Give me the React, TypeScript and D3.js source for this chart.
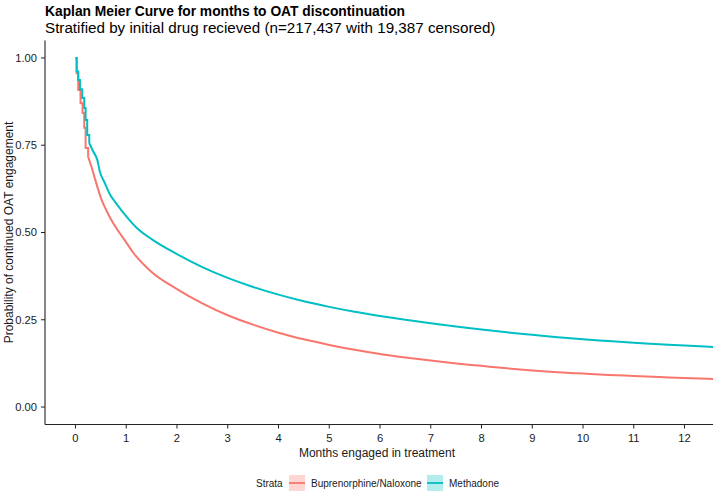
import React, { useMemo } from "react";
import * as d3 from "d3";

const WIDTH = 713;
const HEIGHT = 493;
const PANEL = { left: 45, right: 715, top: 40.5, bottom: 424.5 };

const TITLE = "Kaplan Meier Curve for months to OAT discontinuation";
const SUBTITLE = "Stratified by initial drug recieved (n=217,437 with 19,387 censored)";

// months on treatment / survival probability
const methadoneTime = [0, 0.024, 0.055, 0.089, 0.134, 0.173, 0.2, 0.232, 0.272, 0.35, 0.43, 0.48, 0.58, 0.68, 0.81, 1.01, 1.21, 1.5, 2, 2.5, 3, 3.5, 4, 4.5, 5, 5.5, 6, 6.5, 7, 7.5, 8, 8.5, 9, 9.5, 10, 10.5, 11, 11.5, 12, 12.6];
const methadoneSurv = [1, 0.961, 0.937, 0.91, 0.885, 0.857, 0.822, 0.779, 0.756, 0.732, 0.708, 0.675, 0.641, 0.609, 0.582, 0.545, 0.513, 0.481, 0.438, 0.401, 0.37, 0.344, 0.322, 0.303, 0.287, 0.273, 0.261, 0.25, 0.24, 0.231, 0.222, 0.214, 0.207, 0.2, 0.194, 0.189, 0.184, 0.18, 0.176, 0.172];

const bupTime = [0, 0.024, 0.055, 0.1, 0.14, 0.173, 0.2, 0.25, 0.32, 0.38, 0.45, 0.514, 0.61, 0.71, 0.84, 0.97, 1.14, 1.5, 2, 2.5, 3, 3.5, 4, 4.5, 5, 5.5, 6, 6.5, 7, 7.5, 8, 8.5, 9, 9.5, 10, 10.5, 11, 11.5, 12, 12.6];
const bupSurv = [1, 0.956, 0.908, 0.87, 0.842, 0.8, 0.742, 0.717, 0.686, 0.656, 0.622, 0.594, 0.563, 0.535, 0.505, 0.478, 0.442, 0.387, 0.338, 0.297, 0.263, 0.236, 0.213, 0.194, 0.178, 0.164, 0.152, 0.142, 0.133, 0.125, 0.118, 0.111, 0.105, 0.1, 0.096, 0.092, 0.089, 0.086, 0.083, 0.08];

const strataNames = ["Buprenorphine/Naloxone", "Methadone"];
const strataColors = ["#F8766D", "#00BFC4"];
// where the visible day-by-day steps end and the curve gets dense
const stepEnds = [0.25, 0.272];

const xTicks = [0, 1, 2, 3, 4, 5, 6, 7, 8, 9, 10, 11, 12];
const yTicks = [0, 0.25, 0.5, 0.75, 1];

const FONT = "'Liberation Sans', Arial, sans-serif";
const TEXT = "#1a1a1a";

const App = () => {
  const xScale = d3.scaleLinear().domain([-0.6, 12.6]).range([PANEL.left, PANEL.right]);
  const yScale = d3.scaleLinear().domain([-0.05, 1.05]).range([PANEL.bottom, PANEL.top]);

  const series = useMemo(() => {
    const all = [
      { time: bupTime, surv: bupSurv },
      { time: methadoneTime, surv: methadoneSurv },
    ];
    return all.map((s, i) => {
      const pts: [number, number][] = s.time.map((t, j) => [t, s.surv[j]]);
      const early = pts.filter(p => p[0] <= stepEnds[i]);
      const late = pts.filter(p => p[0] >= stepEnds[i]);
      const stepLine = d3.line<[number, number]>()
        .x(d => xScale(d[0]))
        .y(d => yScale(d[1]))
        .curve(d3.curveStepAfter);
      const smoothLine = d3.line<[number, number]>()
        .x(d => xScale(d[0]))
        .y(d => yScale(d[1]))
        .curve(d3.curveMonotoneX);
      return { early: stepLine(early) ?? "", late: smoothLine(late) ?? "", color: strataColors[i] };
    });
  }, []);

  const fmt = d3.format(".2f");
  const legendY = 483;

  return (
    <div style={{ position: "absolute", left: 0, top: 0 }}>
      <svg width={WIDTH} height={HEIGHT} style={{ display: "block", background: "white" }} fontFamily={FONT}>
        <defs>
          <clipPath id="panel">
            <rect x={PANEL.left} y={PANEL.top} width={PANEL.right - PANEL.left} height={PANEL.bottom - PANEL.top} />
          </clipPath>
        </defs>

        <text x={45} y={16} fontSize={13.8} fontWeight="bold" fill="#000">{TITLE}</text>
        <text x={45} y={33} fontSize={15.2} fill="#000">{SUBTITLE}</text>

        {/* curves */}
        <g clipPath="url(#panel)" fill="none" strokeWidth={2}>
          {series.map((s, i) => (
            <g key={i} stroke={s.color}>
              <path d={s.early} />
              <path d={s.late} />
            </g>
          ))}
        </g>

        {/* axes */}
        <line x1={PANEL.left} x2={PANEL.left} y1={PANEL.top} y2={PANEL.bottom} stroke="#222" strokeWidth={1.1} />
        <line x1={PANEL.left} x2={PANEL.right} y1={PANEL.bottom} y2={PANEL.bottom} stroke="#222" strokeWidth={1.1} />

        {yTicks.map(t => (
          <g key={t} transform={`translate(0,${yScale(t)})`}>
            <line x1={PANEL.left - 4} x2={PANEL.left} stroke="#222" />
            <text x={PANEL.left - 8} dy="0.35em" textAnchor="end" fontSize={11.2} fill={TEXT}>{fmt(t)}</text>
          </g>
        ))}
        {xTicks.map(t => (
          <g key={t} transform={`translate(${xScale(t)},0)`}>
            <line y1={PANEL.bottom} y2={PANEL.bottom + 4} stroke="#222" />
            <text y={442} textAnchor="middle" fontSize={11.2} fill={TEXT}>{t}</text>
          </g>
        ))}

        <text x={(PANEL.left + PANEL.right - 6) / 2} y={457} textAnchor="middle" fontSize={12} fill={TEXT}>
          Months engaged in treatment
        </text>
        <text
          transform={`translate(13,${(PANEL.top + PANEL.bottom) / 2}) rotate(-90)`}
          textAnchor="middle"
          fontSize={12}
          fill={TEXT}
        >
          Probability of continued OAT engagement
        </text>

        {/* legend */}
        <text x={256} y={legendY + 3.5} fontSize={10} fill={TEXT}>Strata</text>
        {strataNames.map((name, i) => {
          const kx = i === 0 ? 289 : 427;
          return (
            <g key={name}>
              <rect x={kx} y={legendY - 8} width={16} height={16} fill={strataColors[i]} fillOpacity={0.3} />
              <line x1={kx} x2={kx + 16} y1={legendY} y2={legendY} stroke={strataColors[i]} strokeWidth={1.8} />
              <text x={kx + 22} y={legendY + 3.5} fontSize={10} fill={TEXT}>{name}</text>
            </g>
          );
        })}
      </svg>
    </div>
  );
};

export default App;
